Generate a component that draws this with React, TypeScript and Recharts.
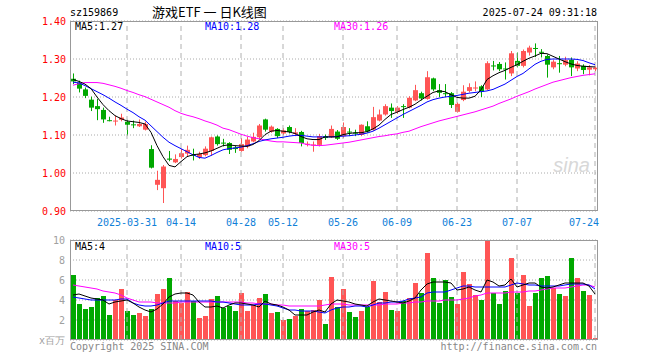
import { ComposedChart, Bar, Line, XAxis, YAxis, CartesianGrid, ReferenceLine, Cell } from 'recharts';

const dates = [
  '03-18', '03-19', '03-20', '03-21', '03-24', '03-25', '03-26', '03-27', '03-28', '03-31',
  '04-01', '04-02', '04-03', '04-07', '04-08', '04-09', '04-10', '04-11', '04-14', '04-15',
  '04-16', '04-17', '04-18', '04-21', '04-22', '04-23', '04-24', '04-25', '04-28', '04-29',
  '04-30', '05-06', '05-07', '05-08', '05-09', '05-12', '05-13', '05-14', '05-15', '05-16',
  '05-19', '05-20', '05-21', '05-22', '05-23', '05-26', '05-27', '05-28', '05-29', '05-30',
  '06-03', '06-04', '06-05', '06-06', '06-09', '06-10', '06-11', '06-12', '06-13', '06-16',
  '06-17', '06-18', '06-19', '06-20', '06-23', '06-24', '06-25', '06-26', '06-27', '06-30',
  '07-01', '07-02', '07-03', '07-04', '07-07', '07-08', '07-09', '07-10', '07-11', '07-14',
  '07-15', '07-16', '07-17', '07-18', '07-21', '07-22', '07-23', '07-24',
];

const open = [
  1.248, 1.238, 1.220, 1.193, 1.176, 1.166, 1.139, 1.136, 1.140, 1.135,
  1.128, 1.123, 1.114, 1.063, 0.969, 0.960, 1.038, 1.028, 1.042, 1.051,
  1.048, 1.042, 1.047, 1.058, 1.096, 1.080, 1.079, 1.067, 1.058, 1.070,
  1.083, 1.094, 1.141, 1.109, 1.116, 1.104, 1.121, 1.103, 1.108, 1.075,
  1.073, 1.074, 1.097, 1.094, 1.109, 1.097, 1.109, 1.106, 1.100, 1.123,
  1.114, 1.138, 1.154, 1.172, 1.161, 1.176, 1.172, 1.191, 1.210, 1.195,
  1.249, 1.218, 1.210, 1.210, 1.161, 1.192, 1.216, 1.224, 1.228, 1.220,
  1.283, 1.287, 1.275, 1.262, 1.295, 1.282, 1.317, 1.329, 1.319, 1.308,
  1.278, 1.289, 1.285, 1.298, 1.275, 1.282, 1.272, 1.273,
];
const high = [
  1.262, 1.243, 1.225, 1.201, 1.195, 1.172, 1.148, 1.151, 1.156, 1.140,
  1.138, 1.141, 1.135, 1.073, 1.006, 1.021, 1.058, 1.049, 1.063, 1.072,
  1.064, 1.056, 1.070, 1.096, 1.099, 1.090, 1.081, 1.072, 1.092, 1.095,
  1.106, 1.129, 1.143, 1.125, 1.118, 1.118, 1.125, 1.118, 1.111, 1.083,
  1.083, 1.103, 1.101, 1.125, 1.113, 1.133, 1.118, 1.114, 1.128, 1.136,
  1.174, 1.167, 1.181, 1.183, 1.176, 1.181, 1.202, 1.232, 1.214, 1.268,
  1.251, 1.234, 1.234, 1.213, 1.186, 1.231, 1.236, 1.241, 1.231, 1.294,
  1.295, 1.292, 1.291, 1.321, 1.317, 1.325, 1.335, 1.341, 1.326, 1.312,
  1.297, 1.308, 1.306, 1.304, 1.294, 1.286, 1.284, 1.281,
];
const low = [
  1.234, 1.212, 1.197, 1.163, 1.139, 1.132, 1.136, 1.125, 1.136, 1.099,
  1.118, 1.121, 1.112, 1.012, 0.955, 0.921, 1.031, 1.026, 1.038, 1.044,
  1.033, 1.037, 1.044, 1.046, 1.072, 1.070, 1.050, 1.053, 1.056, 1.065,
  1.081, 1.088, 1.109, 1.106, 1.092, 1.100, 1.104, 1.097, 1.070, 1.070,
  1.056, 1.070, 1.087, 1.092, 1.087, 1.092, 1.097, 1.097, 1.097, 1.106,
  1.111, 1.136, 1.151, 1.145, 1.156, 1.145, 1.170, 1.189, 1.191, 1.193,
  1.216, 1.200, 1.200, 1.171, 1.159, 1.189, 1.212, 1.215, 1.200, 1.218,
  1.270, 1.268, 1.246, 1.255, 1.278, 1.278, 1.309, 1.305, 1.304, 1.251,
  1.273, 1.264, 1.281, 1.255, 1.268, 1.260, 1.257, 1.268,
];
const close = [
  1.241, 1.222, 1.203, 1.172, 1.168, 1.141, 1.137, 1.138, 1.146, 1.127,
  1.126, 1.129, 1.129, 1.014, 0.982, 1.017, 1.035, 1.037, 1.052, 1.061,
  1.046, 1.050, 1.064, 1.094, 1.076, 1.078, 1.061, 1.063, 1.076, 1.088,
  1.095, 1.125, 1.114, 1.122, 1.097, 1.112, 1.108, 1.107, 1.079, 1.077,
  1.075, 1.097, 1.092, 1.116, 1.090, 1.121, 1.107, 1.105, 1.127, 1.109,
  1.147, 1.154, 1.176, 1.163, 1.172, 1.174, 1.198, 1.218, 1.196, 1.252,
  1.220, 1.211, 1.208, 1.179, 1.182, 1.214, 1.226, 1.225, 1.214, 1.289,
  1.281, 1.273, 1.273, 1.315, 1.282, 1.321, 1.330, 1.327, 1.317, 1.285,
  1.293, 1.287, 1.297, 1.278, 1.288, 1.271, 1.278, 1.277,
];

const ma5 = [
  1.246, 1.241, 1.234, 1.222, 1.200, 1.180, 1.164, 1.151, 1.143, 1.137,
  1.135, 1.133, 1.129, 1.107, 1.072, 1.043, 1.020, 1.016, 1.030, 1.043,
  1.048, 1.050, 1.053, 1.058, 1.065, 1.072, 1.074, 1.072, 1.071, 1.070,
  1.075, 1.085, 1.101, 1.110, 1.112, 1.110, 1.108, 1.104, 1.096, 1.090,
  1.088, 1.088, 1.095, 1.095, 1.095, 1.101, 1.104, 1.106, 1.106, 1.109,
  1.116, 1.126, 1.141, 1.154, 1.160, 1.167, 1.173, 1.181, 1.192, 1.202,
  1.212, 1.216, 1.214, 1.206, 1.199, 1.197, 1.197, 1.202, 1.219, 1.246,
  1.256, 1.264, 1.270, 1.278, 1.285, 1.294, 1.302, 1.308, 1.315, 1.314,
  1.307, 1.300, 1.293, 1.287, 1.283, 1.281, 1.280, 1.279,
];
const ma10 = [
  1.239, 1.237, 1.230, 1.222, 1.214, 1.206, 1.197, 1.187, 1.178, 1.168,
  1.159, 1.148, 1.139, 1.124, 1.109, 1.094, 1.081, 1.072, 1.064, 1.056,
  1.048, 1.041, 1.039, 1.046, 1.054, 1.061, 1.064, 1.066, 1.068, 1.072,
  1.077, 1.083, 1.087, 1.090, 1.092, 1.094, 1.097, 1.099, 1.099, 1.097,
  1.095, 1.095, 1.095, 1.095, 1.096, 1.097, 1.098, 1.100, 1.102, 1.105,
  1.110, 1.118, 1.127, 1.136, 1.145, 1.154, 1.162, 1.170, 1.178, 1.187,
  1.193, 1.197, 1.200, 1.202, 1.204, 1.207, 1.210, 1.212, 1.214, 1.216,
  1.220, 1.227, 1.234, 1.244, 1.254, 1.262, 1.274, 1.286, 1.294, 1.299,
  1.300, 1.300, 1.300, 1.300, 1.299, 1.296, 1.290, 1.285,
];
const ma30 = [
  1.231, 1.235, 1.238, 1.238, 1.238, 1.236, 1.232, 1.228, 1.223, 1.217,
  1.212, 1.206, 1.201, 1.194, 1.187, 1.180, 1.173, 1.164, 1.157, 1.152,
  1.148, 1.143, 1.137, 1.132, 1.126, 1.118, 1.114, 1.108, 1.102, 1.097,
  1.093, 1.090, 1.087, 1.084, 1.082, 1.082, 1.081, 1.080, 1.079, 1.075,
  1.073, 1.072, 1.073, 1.075, 1.077, 1.079, 1.081, 1.084, 1.087, 1.090,
  1.093, 1.096, 1.098, 1.101, 1.103, 1.107, 1.110, 1.116, 1.122, 1.127,
  1.132, 1.137, 1.141, 1.145, 1.149, 1.153, 1.157, 1.161, 1.166, 1.171,
  1.176, 1.183, 1.189, 1.195, 1.202, 1.208, 1.214, 1.221, 1.227, 1.233,
  1.239, 1.243, 1.247, 1.251, 1.254, 1.257, 1.259, 1.261,
];

// volume, in millions
const volume = [
  6.5, 3.6, 3.1, 3.3, 4.2, 4.4, 2.5, 4.0, 5.1, 2.9,
  2.5, 2.7, 2.4, 3.1, 4.6, 5.1, 6.2, 3.9, 3.7, 4.8,
  3.9, 2.2, 2.4, 4.1, 4.4, 3.2, 3.4, 2.9, 4.7, 2.9,
  3.5, 4.2, 4.6, 2.7, 2.8, 2.0, 2.1, 2.4, 3.1, 2.9,
  3.0, 4.0, 1.6, 6.3, 3.3, 5.1, 2.8, 2.3, 2.9, 3.3,
  5.9, 3.8, 4.8, 3.0, 2.9, 3.9, 4.2, 5.7, 4.7, 8.7,
  6.2, 3.7, 6.0, 4.3, 3.6, 6.8, 5.6, 4.5, 4.0, 9.9,
  4.7, 3.6, 4.9, 8.2, 4.7, 6.5, 3.4, 4.7, 6.2, 6.4,
  5.2, 4.6, 4.4, 8.2, 6.2, 4.9, 4.5, 0.2,
];
const volMa5 = [
  4.5, 4.6, 4.4, 4.2, 4.1, 4.0, 3.6, 3.8, 3.9, 4.0,
  3.7, 3.3, 3.0, 2.8, 3.1, 3.6, 4.3, 4.6, 4.7, 4.7,
  4.5, 3.8, 3.3, 3.3, 3.4, 3.2, 3.5, 3.7, 3.7, 3.6,
  3.5, 3.3, 3.9, 3.6, 3.5, 3.3, 3.0, 2.5, 2.5, 2.5,
  2.8, 3.0, 2.8, 3.6, 4.0, 3.9, 3.8, 3.6, 3.5, 3.4,
  3.8, 4.1, 4.0, 3.9, 3.8, 3.7, 3.9, 4.2, 5.0, 5.6,
  5.8, 5.8, 5.8, 5.7, 5.0, 5.1, 5.3, 5.0, 4.8, 6.0,
  5.8, 5.4, 5.5, 6.1, 5.3, 5.5, 5.7, 5.7, 5.3, 5.2,
  5.3, 5.5, 5.7, 5.7, 5.7, 5.7, 5.4, 4.6,
];
const volMa10 = [
  4.3, 4.2, 4.1, 4.0, 4.0, 4.0, 4.0, 4.0, 4.1, 4.1,
  3.7, 3.5, 3.4, 3.4, 3.5, 3.7, 3.9, 3.9, 3.9, 3.9,
  3.9, 3.9, 3.9, 3.9, 3.8, 3.8, 3.7, 3.6, 3.5, 3.5,
  3.5, 3.6, 3.6, 3.5, 3.4, 3.2, 3.0, 3.0, 2.9, 2.9,
  2.9, 2.8, 2.7, 3.0, 3.2, 3.3, 3.3, 3.4, 3.4, 3.3,
  3.5, 3.7, 3.7, 3.8, 3.8, 3.9, 4.1, 4.2, 4.3, 4.7,
  4.8, 4.8, 4.8, 5.0, 5.2, 5.4, 5.4, 5.3, 5.3, 5.3,
  5.3, 5.3, 5.3, 5.5, 5.7, 5.6, 5.5, 5.5, 5.4, 5.4,
  5.4, 5.4, 5.5, 5.6, 5.6, 5.6, 5.5, 5.1,
];
const volMa30 = [
  5.5, 5.4, 5.3, 5.2, 5.1, 4.9, 4.8, 4.7, 4.5, 4.2,
  4.0, 3.8, 3.8, 3.8, 3.7, 3.7, 3.7, 3.7, 3.8, 3.8,
  3.8, 3.8, 3.8, 3.8, 3.8, 3.8, 3.8, 3.8, 3.8, 3.7,
  3.7, 3.6, 3.6, 3.6, 3.5, 3.5, 3.4, 3.4, 3.4, 3.4,
  3.4, 3.4, 3.5, 3.6, 3.6, 3.6, 3.5, 3.5, 3.5, 3.5,
  3.5, 3.5, 3.6, 3.6, 3.6, 3.7, 3.7, 3.8, 3.8, 3.9,
  3.9, 3.9, 4.0, 4.0, 4.0, 4.1, 4.2, 4.4, 4.5, 4.7,
  4.7, 4.7, 4.7, 4.8, 4.8, 4.8, 4.9, 4.9, 5.0, 5.1,
  5.2, 5.2, 5.2, 5.3, 5.4, 5.5, 5.5, 5.3,
];

const tickDates = ['03-31', '04-14', '04-28', '05-12', '05-26', '06-09', '06-23', '07-07', '07-24'];
const tickLabels = ['2025-03-31', '04-14', '04-28', '05-12', '05-26', '06-09', '06-23', '07-07', '07-24'];
const priceTicks = [0.9, 1.0, 1.1, 1.2, 1.3, 1.4];
const volTicks = [0, 2, 4, 6, 8, 10];

const RED = '#ff5555';
const GREEN = '#00a800';
const MONO = '"DejaVu Sans Mono", monospace';

const rows = dates.map((d, i) => ({
  date: d,
  open: open[i],
  high: high[i],
  low: low[i],
  close: close[i],
  range: [low[i], high[i]],
  ma5: ma5[i],
  ma10: ma10[i],
  ma30: ma30[i],
  vol: volume[i],
  vma5: volMa5[i],
  vma10: volMa10[i],
  vma30: volMa30[i],
}));

function Candle(props: any) {
  const { x, y, width, height, payload } = props;
  if (x == null || y == null) return null;
  const top = Math.min(y, y + height);
  const bottom = Math.max(y, y + height);
  const span = payload.high - payload.low || 1;
  const py = (v: number) => top + ((payload.high - v) / span) * (bottom - top);
  const color = payload.close >= payload.open ? RED : GREEN;
  const cx = Math.floor(x + width / 2) + 0.5;
  const yo = py(payload.open);
  const yc = py(payload.close);
  const bt = Math.min(yo, yc);
  const bh = Math.max(1, Math.abs(yo - yc));
  return (
    <g>
      <line x1={cx} x2={cx} y1={top} y2={bottom} stroke={color} strokeWidth={1} />
      <rect x={cx - 2.5} y={bt} width={5} height={bh} fill={color} />
    </g>
  );
}

function DateTick({ x, y, payload }: any) {
  const i = tickDates.indexOf(payload.value);
  const last = i === tickDates.length - 1;
  return (
    <text x={last ? x + 4 : x} y={y} dy="0.71em" textAnchor={last ? 'end' : 'middle'}
      fill="#1080d8" fontSize={10} fontFamily={MONO}>
      {tickLabels[i]}
    </text>
  );
}

function VolTick({ x, y, payload }: any) {
  return (
    <text x={x} y={y} dy="0.35em" textAnchor="end" fill="#a0a0a0" fontSize={10} fontFamily={MONO}>
      {payload.value === 0 ? 'x百万' : payload.value}
    </text>
  );
}

export default function App() {
  return (
    <div style={{ position: 'absolute', left: 0, top: 0, width: 660, height: 360, background: '#fff' }}>
      <div style={{ position: 'absolute', left: 0, top: 0 }}>
        <ComposedChart width={660} height={240} data={rows} margin={{ top: 21, right: 62, bottom: 0, left: 8 }}>
          <CartesianGrid vertical={false} stroke="#aaa" strokeDasharray="1 2" />
          <XAxis dataKey="date" ticks={tickDates} interval={0} height={29} axisLine={false} tickLine={false}
            tick={<DateTick />} />
          <YAxis domain={[0.9, 1.4]} ticks={priceTicks} interval={0} allowDataOverflow width={62} axisLine={false}
            tickLine={false} tickSize={0} tickMargin={4} tickFormatter={(v: number) => v.toFixed(2)}
            tick={{ fill: '#ff0000', fontSize: 10, fontFamily: MONO }} />
          {tickDates.map((d) => (
            <ReferenceLine key={d} x={d} stroke="#b0b0b0" strokeDasharray="5 4" />
          ))}
          <Bar dataKey="range" barSize={5} shape={<Candle />} isAnimationActive={false} />
          <Line dataKey="ma30" stroke="#ff00ff" strokeWidth={1} dot={false} isAnimationActive={false} />
          <Line dataKey="ma10" stroke="#0000ff" strokeWidth={1} dot={false} isAnimationActive={false} />
          <Line dataKey="ma5" stroke="#000000" strokeWidth={1} dot={false} isAnimationActive={false} />
        </ComposedChart>
      </div>
      <div style={{ position: 'absolute', left: 0, top: 230 }}>
        <ComposedChart width={660} height={115} data={rows} margin={{ top: 10, right: 62, bottom: 5, left: 8 }}>
          <CartesianGrid vertical={false} stroke="#aaa" strokeDasharray="1 2" />
          <XAxis dataKey="date" hide />
          <YAxis domain={[0, 10]} ticks={volTicks} interval={0} allowDataOverflow width={62} axisLine={false}
            tickLine={false} tickSize={0} tickMargin={5} tick={<VolTick />} />
          {tickDates.map((d) => (
            <ReferenceLine key={d} x={d} stroke="#b0b0b0" strokeDasharray="5 4" />
          ))}
          <Bar dataKey="vol" barSize={5} isAnimationActive={false}>
            {rows.map((r, i) => (
              <Cell key={i} fill={r.close >= r.open ? RED : GREEN} />
            ))}
          </Bar>
          <Line dataKey="vma30" stroke="#ff00ff" strokeWidth={1} dot={false} isAnimationActive={false} />
          <Line dataKey="vma10" stroke="#0000ff" strokeWidth={1} dot={false} isAnimationActive={false} />
          <Line dataKey="vma5" stroke="#000000" strokeWidth={1} dot={false} isAnimationActive={false} />
        </ComposedChart>
      </div>
      <svg width={660} height={360} style={{ position: 'absolute', left: 0, top: 0, pointerEvents: 'none' }}
        fontFamily={MONO} fontSize={10}>
        <rect x={70.5} y={21.5} width={527} height={189} fill="none" stroke="#999" />
        <rect x={70.5} y={240.5} width={527} height={99} fill="none" stroke="#999" />
        <text x={70} y={16} fill="#000">sz159869</text>
        <text x={152} y={17} fill="#000" fontSize={13} fontFamily='"Noto Sans CJK SC", sans-serif'>游戏ETF 一 日K线图</text>
        <text x={597} y={16} fill="#000" textAnchor="end">2025-07-24 09:31:18</text>
        <text x={75} y={30} fill="#000">MA5:1.27</text>
        <text x={205} y={30} fill="#0000ff">MA10:1.28</text>
        <text x={334} y={30} fill="#ff00ff">MA30:1.26</text>
        <text x={75} y={250} fill="#000">MA5:4</text>
        <text x={205} y={250} fill="#0000ff">MA10:5</text>
        <text x={334} y={250} fill="#ff00ff">MA30:5</text>
        <text x={590} y={172} fill="#d8d8d8" fontSize={20} fontStyle="italic" fontFamily="Liberation Sans, sans-serif"
          textAnchor="end">sina</text>
        <text x={70} y={350} fill="#888">Copyright 2025 SINA.COM</text>
        <text x={597} y={350} fill="#888" textAnchor="end">http://finance.sina.com.cn</text>
      </svg>
    </div>
  );
}
